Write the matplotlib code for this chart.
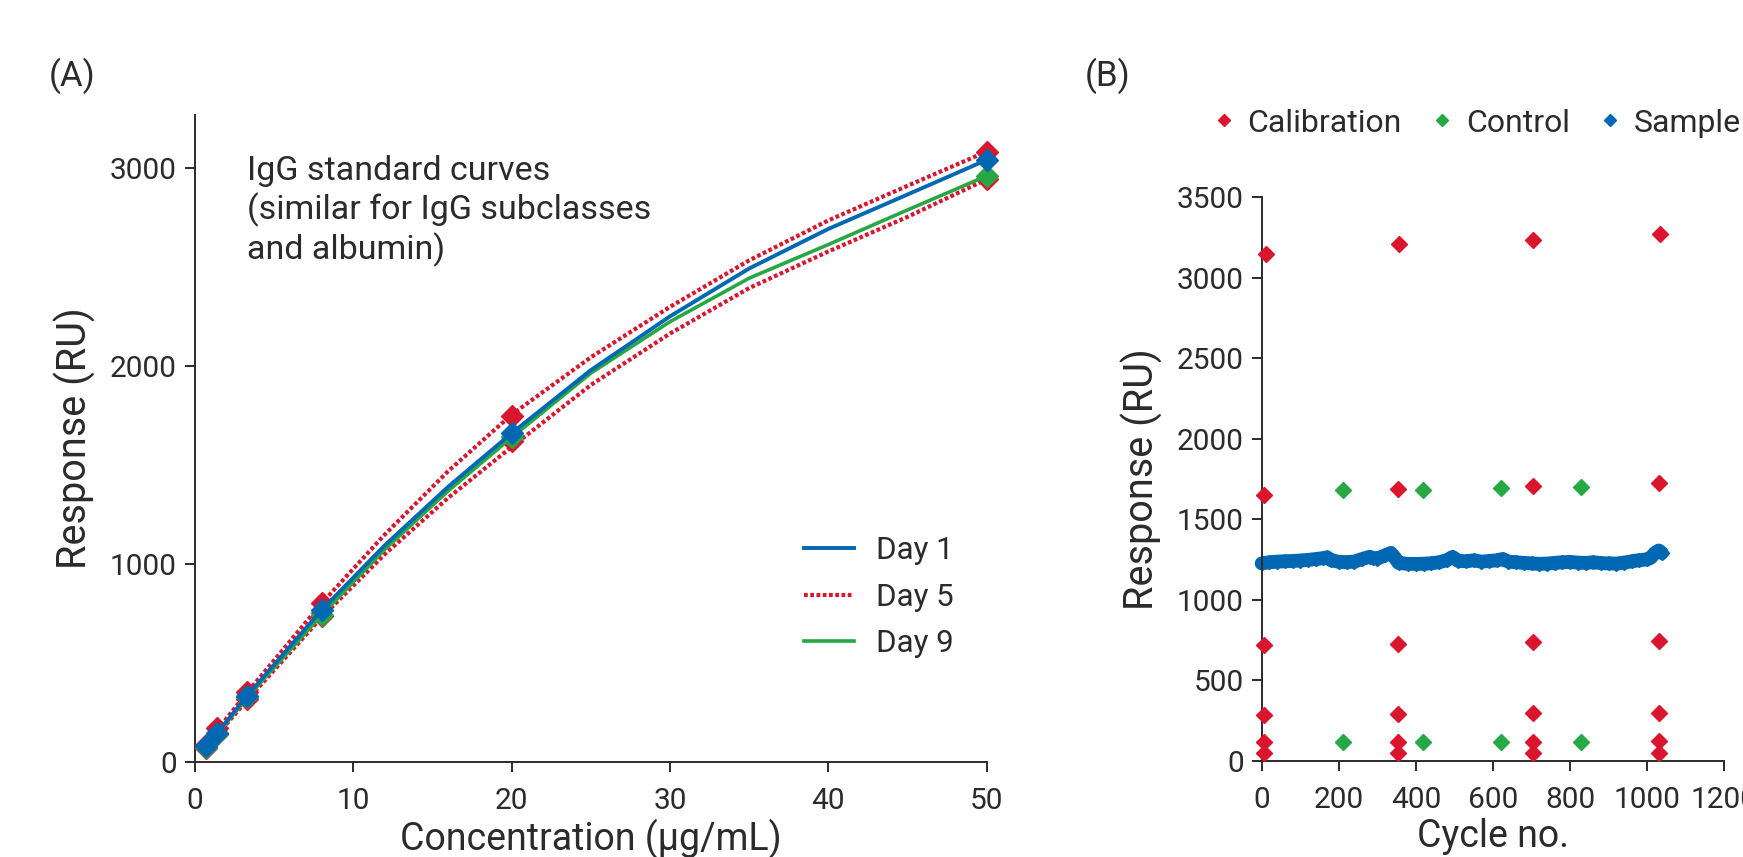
import matplotlib
matplotlib.use("Agg")
import matplotlib.pyplot as plt
from matplotlib.lines import Line2D

plt.rcParams['font.family'] = ['Roboto', 'DejaVu Sans']

BLUE = '#0068b3'
RED = '#d9162e'
GREEN = '#27a844'
INK = '#2b2b2b'

# ---- panel A: standard curves ----
conc_pts = [0.7, 1.4, 3.3, 8, 20, 50]
day1_pts = [79, 147, 334, 767, 1661, 3043]
day5a_pts = [85, 169, 350, 801, 1750, 3085]
day5b_pts = [70, 140, 315, 735, 1620, 2945]
day9_pts = [72, 142, 325, 742, 1640, 2962]

conc_fit = [0.7, 1.4, 3.3, 8, 12, 16, 20, 25, 30, 35, 40, 45, 50]
day1_fit = [75, 145, 334, 767, 1095, 1391, 1661, 1980, 2252, 2494, 2694, 2868, 3043]
day5a_fit = [82, 160, 350, 801, 1150, 1470, 1755, 2045, 2300, 2535, 2737, 2912, 3085]
day5b_fit = [68, 136, 312, 730, 1050, 1335, 1592, 1905, 2165, 2395, 2580, 2755, 2945]
day9_fit = [70, 140, 325, 742, 1075, 1370, 1640, 1965, 2225, 2445, 2615, 2790, 2962]

# ---- panel B: run over cycles ----
calib_cycle = [7, 7, 7, 7, 7, 10,
               354, 354, 354, 354, 354, 357,
               704, 704, 704, 704, 704, 704,
               1030, 1030, 1030, 1030, 1030, 1032]
calib_resp = [46, 114, 284, 720, 1652, 3147,
              46, 114, 288, 724, 1688, 3211,
              46, 114, 295, 736, 1704, 3234,
              46, 122, 299, 742, 1725, 3269]
ctrl_cycle = [211, 211, 419, 419, 620, 620, 828, 828]
ctrl_resp = [114, 1679, 114, 1679, 114, 1692, 114, 1698]
sample_cycle = [0, 20, 40, 60, 80, 100, 120, 140, 160, 170, 180, 200, 220, 240,
                260, 280, 290, 300, 320, 335, 345, 355, 380, 400, 420, 440, 460,
                480, 495, 510, 530, 550, 570, 590, 610, 625, 640, 660, 680, 700,
                720, 740, 760, 780, 800, 820, 840, 860, 880, 900, 920, 940, 960,
                980, 1000, 1010, 1020, 1030, 1038]
sample_resp = [1225, 1232, 1236, 1238, 1240, 1243, 1247, 1252, 1258, 1262, 1245,
               1235, 1233, 1236, 1252, 1266, 1258, 1255, 1275, 1290, 1262, 1228,
               1222, 1222, 1223, 1226, 1232, 1245, 1265, 1240, 1238, 1244, 1236,
               1240, 1244, 1252, 1236, 1232, 1228, 1225, 1222, 1224, 1228, 1232,
               1234, 1230, 1228, 1232, 1227, 1225, 1224, 1230, 1238, 1245, 1250,
               1262, 1290, 1305, 1290]

W, H = 1743, 857
fig = plt.figure(figsize=(W / 100, H / 100), dpi=100)


def style_axes(ax):
    for s in ('top', 'right'):
        ax.spines[s].set_visible(False)
    for s in ('left', 'bottom'):
        ax.spines[s].set_color(INK)
        ax.spines[s].set_linewidth(1.4)
    ax.tick_params(colors=INK, labelsize=21.5, length=7, width=1.4, direction='out')
    ax.tick_params(axis='x', pad=11)
    ax.tick_params(axis='y', pad=6)


axA = fig.add_axes([195 / W, 1 - 761.7 / H, (986.7 - 195) / W, (761.7 - 115) / H])
axB = fig.add_axes([1261.7 / W, 1 - 760.7 / H, (1724.3 - 1261.7) / W, (760.7 - 197) / H])

# panel A
dots = (0, (0.9, 0.6))
axA.plot(conc_fit, day5a_fit, color=RED, lw=3, ls=dots, zorder=2)
axA.plot(conc_fit, day5b_fit, color=RED, lw=3, ls=dots, zorder=2)
axA.plot(conc_pts, day5a_pts, ls='none', marker='D', ms=11, color=RED, zorder=3)
axA.plot(conc_pts, day5b_pts, ls='none', marker='D', ms=11, color=RED, zorder=3)
axA.plot(conc_fit, day9_fit, color=GREEN, lw=2.6, zorder=4)
axA.plot(conc_pts, day9_pts, ls='none', marker='D', ms=11, color=GREEN, zorder=4)
axA.plot(conc_fit, day1_fit, color=BLUE, lw=2.8, zorder=5)
axA.plot(conc_pts, day1_pts, ls='none', marker='D', ms=11, color=BLUE, zorder=5)

axA.set_xlim(0, 50)
axA.set_ylim(0, 3270)
axA.set_xticks([0, 10, 20, 30, 40, 50])
axA.set_yticks([0, 1000, 2000, 3000])
style_axes(axA)
for c in axA.get_children():
    if isinstance(c, Line2D):
        c.set_clip_on(False)
axA.set_xlabel('Concentration (µg/mL)', fontsize=27, color=INK, labelpad=3)
axA.set_ylabel('Response (RU)', fontsize=28.5, color=INK, labelpad=10)

axA.text(247 / W, 1 - 211 / H, 'IgG standard curves\n(similar for IgG subclasses\nand albumin)',
         transform=fig.transFigure, fontsize=24.5, color=INK, va='center', ha='left',
         linespacing=1.22)

handlesA = [Line2D([], [], color=BLUE, lw=2.8),
            Line2D([], [], color=RED, lw=3, ls=dots),
            Line2D([], [], color=GREEN, lw=2.6)]
fig.legend(handlesA, ['Day 1', 'Day 5', 'Day 9'], loc='center left',
           bbox_to_anchor=(804 / W, 1 - 597 / H), frameon=False, fontsize=22.5,
           handlelength=1.6, handletextpad=0.7, labelspacing=0.55, labelcolor=INK,
           borderpad=0, borderaxespad=0)

# panel B
axB.plot(sample_cycle, sample_resp, color=BLUE, lw=10, marker='D', ms=7.5,
         solid_joinstyle='round', solid_capstyle='round', zorder=2)
axB.plot(calib_cycle, calib_resp, ls='none', marker='D', ms=8.5, color=RED, zorder=3)
axB.plot(ctrl_cycle, ctrl_resp, ls='none', marker='D', ms=8.5, color=GREEN, zorder=3)
axB.set_xlim(0, 1200)
axB.set_ylim(0, 3500)
axB.set_xticks(range(0, 1201, 200))
axB.set_yticks(range(0, 3501, 500))
style_axes(axB)
for c in axB.get_children():
    if isinstance(c, Line2D):
        c.set_clip_on(False)
axB.set_xlabel('Cycle no.', fontsize=27, color=INK, labelpad=3)
axB.set_ylabel('Response (RU)', fontsize=28.5, color=INK, labelpad=10)

handlesB = [Line2D([], [], ls='none', marker='D', ms=6.5, color=RED),
            Line2D([], [], ls='none', marker='D', ms=6.5, color=GREEN),
            Line2D([], [], ls='none', marker='D', ms=6.5, color=BLUE)]
fig.legend(handlesB, ['Calibration', 'Control', 'Sample'], loc='center left',
           bbox_to_anchor=(1214 / W, 1 - 123 / H), frameon=False, fontsize=23,
           ncol=3, handlelength=0.6, handletextpad=0.45, columnspacing=0.95,
           labelcolor=INK, borderpad=0, borderaxespad=0)

fig.text(72 / W, 1 - 76 / H, '(A)', fontsize=25, color=INK, ha='center', va='center')
fig.text(1108 / W, 1 - 76 / H, '(B)', fontsize=25, color=INK, ha='center', va='center')

fig.savefig('out.png', dpi=100)
